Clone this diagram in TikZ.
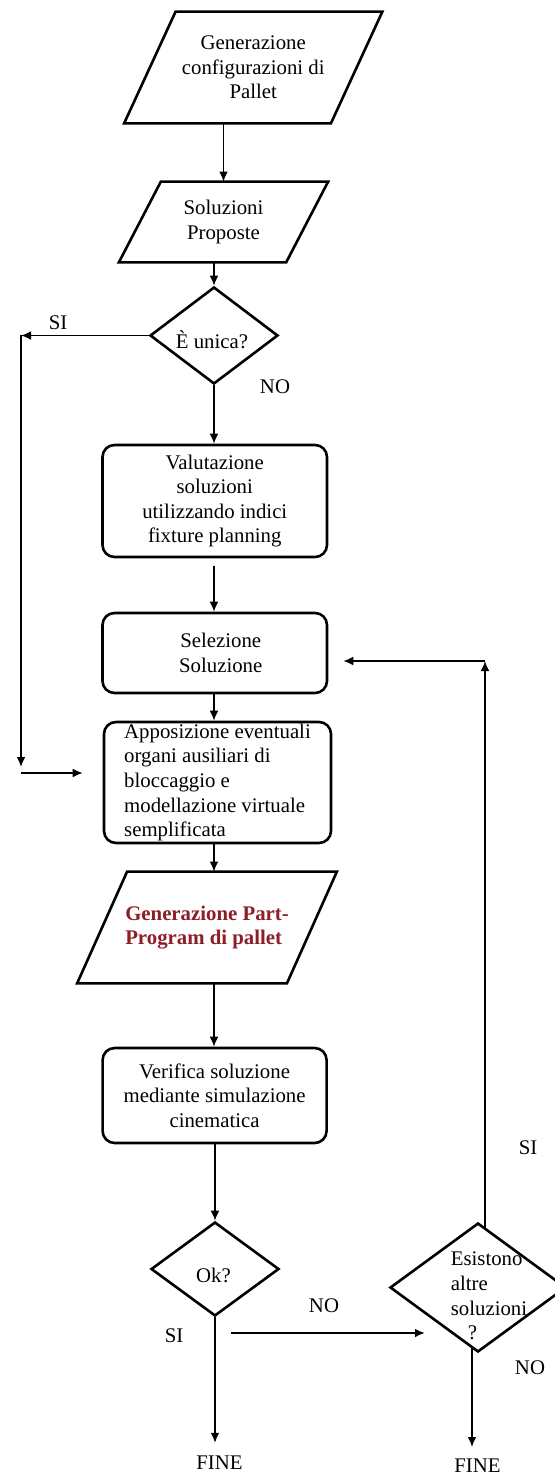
\documentclass[tikz,border=0pt]{standalone}
\usepackage{fontspec}
\setmainfont{Liberation Serif}
\usetikzlibrary{shapes.geometric,arrows.meta,calc}
\definecolor{partred}{RGB}{140,30,40}
\begin{document}
\begin{tikzpicture}[x=0.5pt,y=-0.5pt,
  font=\fontsize{10.4pt}{12.3pt}\selectfont,
  outline/.style={draw=black,line width=1.3pt},
  procbox/.style={outline,rectangle,rounded corners=6pt,inner sep=0pt,fill=white},
  iobody/.style={rectangle,inner sep=1pt},
  decision/.style={outline,diamond,inner sep=0pt,fill=white},
  arr/.style={line width=0.75pt,-{Latex[length=5pt,width=4.4pt]}},
  lbl/.style={inner sep=0pt}]

% page and clipping
\useasboundingbox (0,0) rectangle (555,1475);
\fill[white] (0,0) rectangle (555,1475);
\clip (0,0) rectangle (555,1475);

% column axes
\coordinate (axisA) at (214,0);
\coordinate (axisB) at (223.5,0);

% input/output blocks: a body node, outlined as a slanted parallelogram
\node[iobody, minimum width=103pt, minimum height=55.5pt, align=center]
      (gen) at (253.25,67.5) {Generazione\\configurazioni di\\Pallet};
\draw[outline] ([xshift=12.875pt]gen.north west) -- ([xshift=12.875pt]gen.north east)
      -- ([xshift=-12.875pt]gen.south east) -- ([xshift=-12.875pt]gen.south west) -- cycle;

\node[iobody, minimum width=83.25pt, minimum height=40pt, align=center]
      (prop) at (223.5,222) {Soluzioni\\Proposte};
\draw[outline] ([xshift=10.5pt]prop.north west) -- ([xshift=10.5pt]prop.north east)
      -- ([xshift=-10.5pt]prop.south east) -- ([xshift=-10.5pt]prop.south west) -- cycle;

% decision: single solution?
\node[decision, minimum width=64pt, minimum height=48.5pt] (unica) at (214,335.5) {};
\node[lbl] (unicat) at (212,340) {È unica?};

% process blocks
\node[procbox, minimum width=112.25pt, minimum height=56pt, align=center]
      (val) at (214.75,501) {Valutazione\\soluzioni\\utilizzando indici\\fixture planning};
\node[procbox, minimum width=112.25pt, minimum height=40pt, align=center]
      (sel) at (214.75,653) {\hspace*{6pt}Selezione\\\hspace*{6pt}Soluzione};
\node[procbox, minimum width=113.5pt, minimum height=60.5pt, align=left]
      (app) at (217.5,782.5) {Apposizione eventuali\\organi ausiliari di\\bloccaggio e\\modellazione virtuale\\semplificata};

\node[iobody, minimum width=104.5pt, minimum height=55.5pt, align=left,
      text=partred, font=\fontsize{10.4pt}{12.3pt}\selectfont\bfseries]
      (pp) at (207,927.5) {Generazione Part-\\Program di pallet};
\draw[outline] ([xshift=12.5pt]pp.north west) -- ([xshift=12.5pt]pp.north east)
      -- ([xshift=-12.5pt]pp.south east) -- ([xshift=-12.5pt]pp.south west) -- cycle;

\node[procbox, minimum width=112pt, minimum height=47.5pt, align=center]
      (ver) at (214.6,1095.5) {Verifica soluzione\\mediante simulazione\\cinematica};
\node[decision, minimum width=64pt, minimum height=47pt] (ok) at (215,1269) {};
\node[lbl] (okt) at (213.5,1275) {Ok?};

% decision: other solutions?
\node[decision, minimum width=88pt, minimum height=64.5pt] (altre) at (478,1287.5) {};
\node[lbl, align=left] (altret) at (489,1296) {Esistono\\altre\\soluzioni\\\hspace*{8.5pt}?};

% branch labels
\node[lbl] (si1) at (58,323) {SI};
\node[lbl] (no1) at (275,387) {NO};
\node[lbl] (si2) at (528,1148) {SI};
\node[lbl] (no2) at (324,1306) {NO};
\node[lbl] (si3) at (174,1336) {SI};
\node[lbl] (no3) at (530,1368) {NO};
\node[lbl] (fine1) at (219.5,1463) {FINE};
\node[lbl] (fine2) at (477.5,1466) {FINE};

% main flow
\draw[arr] (gen.south -| axisB) -- (prop.north -| axisB);
\draw[arr] (prop.south -| unica.north) -- (unica.north);
\draw[arr] (unica.south) -- (val.north -| unica.south);
\draw[arr, shorten <=4pt] (val.south -| axisA) -- (sel.north -| axisA);
\draw[arr] (sel.south -| axisA) -- (app.north -| axisA);
\draw[arr] (app.south -| axisA) -- (pp.north -| axisA);
\draw[arr] (pp.south -| axisA) -- (ver.north -| axisA);
\draw[arr] (ver.south -| ok.north) -- (ok.north);
\draw[arr, shorten >=6.5pt] (ok.south) -- (ok.south |- fine1.north);

% "SI" bypass on the left
\coordinate (L1) at (21,335.5);
\coordinate (L2) at (21,767);
\coordinate (L3) at (21,773);
\draw[arr] (unica.west) -- (L1);
\draw[arr] (L1) -- (L2);
\draw[arr, shorten >=10pt] (L3) -- (L3 -| app.west);

% "NO" towards the second decision
\coordinate (N1) at (231,1333);
\coordinate (N2) at (425,1333);
\draw[arr, line width=1pt] (N1) -- (N2);

% loop back to the selection
\coordinate (R1) at (485,1228);
\coordinate (R2) at (485,661);
\draw[arr] (R1) -- (R2);
\draw[arr, shorten >=7.5pt] (R2) -- (R2 -| sel.east);

% end of the second decision
\coordinate (D1) at (472,1347);
\coordinate (D2) at (472,1447);
\draw[arr] (D1) -- (D2);
\end{tikzpicture}
\end{document}
